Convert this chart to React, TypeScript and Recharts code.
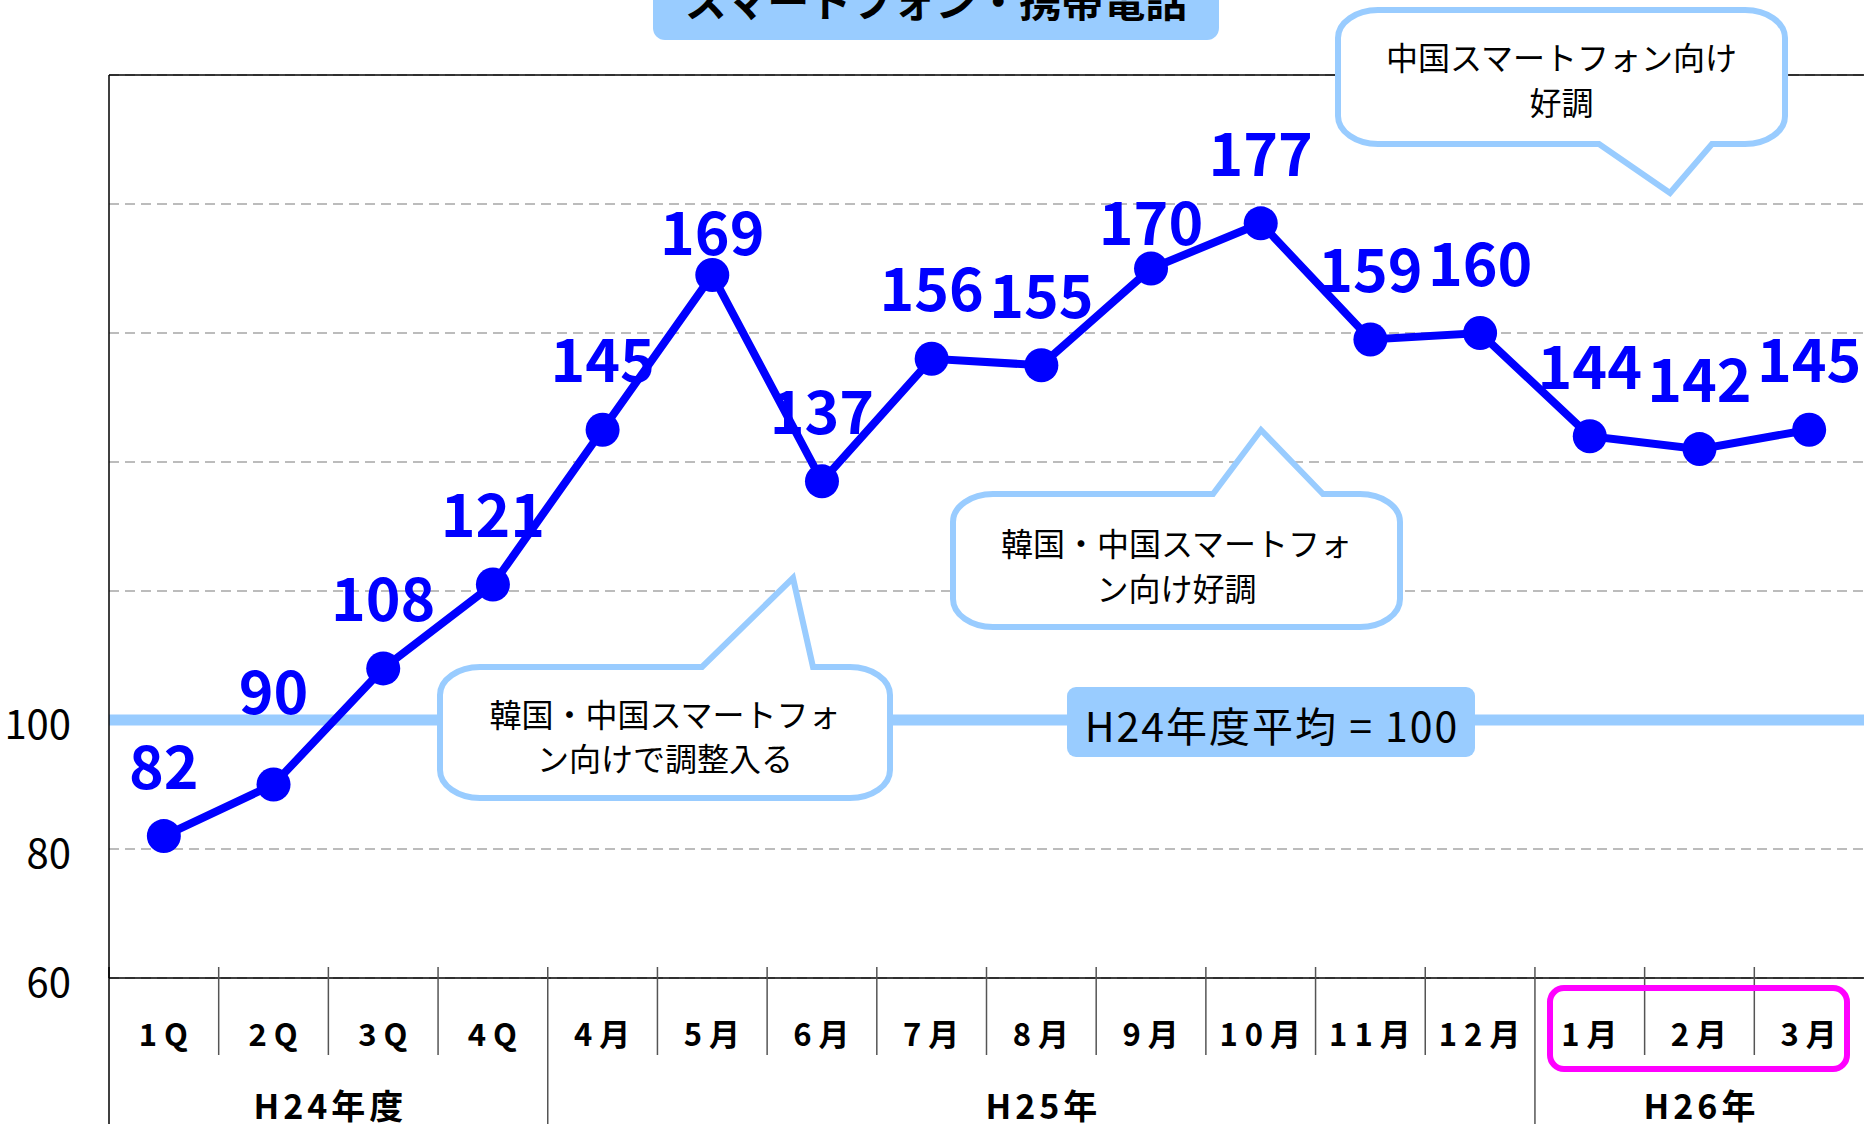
import React from 'react';
import { LineChart, Line, XAxis, YAxis, CartesianGrid, ReferenceLine, LabelList } from 'recharts';

// 指数（H24年度平均 = 100）
const categories = ['1Q', '2Q', '3Q', '4Q', '4月', '5月', '6月', '7月', '8月', '9月', '10月', '11月', '12月', '1月', '2月', '3月'];
const periods = [
  'H24年度', 'H24年度', 'H24年度', 'H24年度',
  'H25年', 'H25年', 'H25年', 'H25年', 'H25年', 'H25年', 'H25年', 'H25年', 'H25年',
  'H26年', 'H26年', 'H26年',
];
const indexValues = [82, 90, 108, 121, 145, 169, 137, 156, 155, 170, 177, 159, 160, 144, 142, 145];
const yTicks = [60, 80, 100, 120, 140, 160, 180, 200];
const yLabelTicks = [60, 80, 100];
const baselineValue = 100;

const data = categories.map((name, i) => ({ name, period: periods[i], value: indexValues[i] }));

const W = 1864;
const H = 1124;
const TOP = 75;
const Y_AXIS_W = 109;
const X_AXIS_H = 146;
const BAND = (W - Y_AXIS_W) / categories.length;

const JP = "'Noto Sans CJK JP', 'Noto Sans', sans-serif";
const LIGHT_BLUE = '#99CCFF';
const BLUE = '#0000FF';

// how far above the dot each value label sits (most are 73px)
const LABEL_LIFT: Record<number, number> = { 1: 96, 5: 45, 9: 49 };

function CategoryTick(props: any) {
  const { x, y, payload } = props;
  const i = props.index ?? payload.index;
  const left = x - BAND / 2;
  const groupStart = i === 0 || periods[i] !== periods[i - 1];
  let group = null;
  if (groupStart) {
    let n = 0;
    while (i + n < periods.length && periods[i + n] === periods[i]) n++;
    group = (
      <text x={left + (n * BAND) / 2 + 2} y={y + 126} textAnchor="middle" dominantBaseline="central"
        fontSize={34} fontWeight={700} fontFamily={JP} fill="#000" style={{ letterSpacing: 4 }}>
        {periods[i]}
      </text>
    );
  }
  return (
    <g>
      <line x1={left} x2={left} y1={y - 11} y2={groupStart ? H : y + 77}
        stroke={i === 0 ? '#000' : '#555'} strokeWidth={1.5} />
      <text x={x + 3} y={y + 54} textAnchor="middle" dominantBaseline="central"
        fontSize={31} fontWeight={700} fontFamily={JP} fill="#000" style={{ letterSpacing: 7 }}>
        {payload.value}
      </text>
      {group}
    </g>
  );
}

function ValueTick(props: any) {
  const { x, y, payload } = props;
  if (!yLabelTicks.includes(payload.value)) return <g />;
  return (
    <text x={x} y={y + 2} textAnchor="end" dominantBaseline="central" fontSize={40}
      fontFamily={JP} fill="#000">
      {payload.value}
    </text>
  );
}

function renderValueLabel(props: any) {
  const x = props.x ?? props.viewBox?.x;
  const y = props.y ?? props.viewBox?.y;
  const lift = LABEL_LIFT[props.index] ?? 73;
  return (
    <text key={props.index} x={x} y={y - lift} textAnchor="middle" dominantBaseline="central"
      fill={BLUE} fontSize={59} fontWeight={700} fontFamily={JP}>
      {props.value}
    </text>
  );
}

type Tail = { side: 'top' | 'bottom'; a: number; b: number; tx: number; ty: number };

function calloutPath(x: number, y: number, w: number, h: number, rx: number, ry: number, t: Tail) {
  let d = `M ${x + rx} ${y}`;
  if (t.side === 'top') d += ` L ${t.a} ${y} L ${t.tx} ${t.ty} L ${t.b} ${y}`;
  d += ` L ${x + w - rx} ${y} A ${rx} ${ry} 0 0 1 ${x + w} ${y + ry}`;
  d += ` L ${x + w} ${y + h - ry} A ${rx} ${ry} 0 0 1 ${x + w - rx} ${y + h}`;
  if (t.side === 'bottom') d += ` L ${t.b} ${y + h} L ${t.tx} ${t.ty} L ${t.a} ${y + h}`;
  d += ` L ${x + rx} ${y + h} A ${rx} ${ry} 0 0 1 ${x} ${y + h - ry}`;
  d += ` L ${x} ${y + ry} A ${rx} ${ry} 0 0 1 ${x + rx} ${y} Z`;
  return d;
}

function Callout({ x, y, w, h, tail, lines, lineY }: { x: number; y: number; w: number; h: number; tail: Tail; lines: string[]; lineY: number[] }) {
  return (
    <g>
      <path d={calloutPath(x, y, w, h, 40, 28, tail)} fill="#fff" stroke={LIGHT_BLUE} strokeWidth={6} strokeLinejoin="miter" />
      {lines.map((s, k) => (
        <text key={k} x={x + w / 2} y={lineY[k]} textAnchor="middle" dominantBaseline="central"
          fontSize={32} fontFamily={JP} fill="#000">
          {s}
        </text>
      ))}
    </g>
  );
}

function Annotations() {
  return (
    <svg width={W} height={H} style={{ position: 'absolute', left: 0, top: 0, pointerEvents: 'none' }}>
      {/* title */}
      <rect x={653} y={-20} width={566} height={60} rx={12} fill={LIGHT_BLUE} />
      <text x={936} y={17} textAnchor="middle" fontSize={42} fontWeight={700} fontFamily={JP} fill="#000">
        スマートフォン・携帯電話
      </text>

      {/* average label */}
      <rect x={1067} y={687} width={408} height={70} rx={9} fill={LIGHT_BLUE} />
      <text x={1272} y={724} textAnchor="middle" dominantBaseline="central" fontSize={41} fontFamily={JP} fill="#000"
        style={{ letterSpacing: 2 }}>
        H24年度平均 = 100
      </text>

      <Callout x={1338} y={10} w={447} h={134}
        tail={{ side: 'bottom', a: 1599, b: 1712, tx: 1670, ty: 193 }}
        lines={['中国スマートフォン向け', '好調']} lineY={[56, 101]} />
      <Callout x={953} y={494} w={447} h={133}
        tail={{ side: 'top', a: 1213, b: 1323, tx: 1261, ty: 430 }}
        lines={['韓国・中国スマートフォ', 'ン向け好調']} lineY={[542, 587]} />
      <Callout x={440} y={667} w={450} h={131}
        tail={{ side: 'top', a: 702, b: 813, tx: 793, ty: 578 }}
        lines={['韓国・中国スマートフォ', 'ン向けで調整入る']} lineY={[713, 757]} />

      {/* H26 highlight */}
      <rect x={1550} y={988} width={297} height={81} rx={14} fill="none" stroke="#FF00FF" strokeWidth={6} />
    </svg>
  );
}

export default function App() {
  return (
    <div style={{ position: 'absolute', left: 0, top: 0, width: W, height: H, background: '#fff', overflow: 'hidden' }}>
      <LineChart width={W} height={H} data={data} margin={{ top: TOP, right: 0, bottom: 0, left: 0 }}>
        <CartesianGrid vertical={false} stroke="#A6A6A6" strokeWidth={1.5} strokeDasharray="10 6" />
        <XAxis
          dataKey="name"
          interval={0}
          height={X_AXIS_H}
          padding={{ left: BAND / 2, right: BAND / 2 }}
          tickLine={false}
          tickSize={0}
          tickMargin={0}
          axisLine={{ stroke: '#000', strokeWidth: 1.5 }}
          tick={<CategoryTick />}
        />
        <YAxis
          type="number"
          domain={[60, 200]}
          ticks={yTicks}
          width={Y_AXIS_W}
          tickLine={false}
          tickSize={0}
          tickMargin={38}
          axisLine={{ stroke: '#000', strokeWidth: 1.5 }}
          tick={<ValueTick />}
        />
        <ReferenceLine y={200} stroke="#000" strokeWidth={1.5} />
        <ReferenceLine y={baselineValue} stroke={LIGHT_BLUE} strokeWidth={11} />
        <Line
          type="linear"
          dataKey="value"
          stroke={BLUE}
          strokeWidth={8}
          dot={{ r: 17, fill: BLUE, stroke: 'none', strokeWidth: 0 }}
          activeDot={false}
          isAnimationActive={false}
        >
          <LabelList dataKey="value" content={renderValueLabel} />
        </Line>
      </LineChart>
      <Annotations />
    </div>
  );
}
